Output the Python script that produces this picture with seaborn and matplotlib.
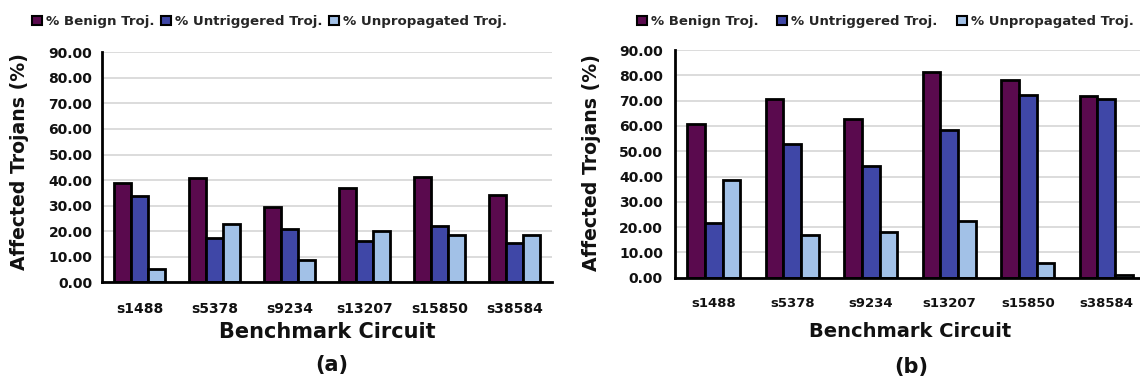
import matplotlib
matplotlib.use("Agg")
import matplotlib.pyplot as plt
import seaborn as sns
import pandas as pd
from matplotlib.ticker import FuncFormatter, MultipleLocator

circuits = ["s1488", "s5378", "s9234", "s13207", "s15850", "s38584"]
series = ["% Benign Troj.", "% Untriggered Troj.", "% Unpropagated Troj."]

benign_a = [38.7, 40.7, 29.5, 36.8, 41.1, 34.3]
untrig_a = [33.6, 17.3, 20.7, 16.2, 22.2, 15.5]
unprop_a = [5.2, 22.9, 8.6, 20.1, 18.4, 18.4]

benign_b = [60.6, 70.6, 62.7, 81.2, 78.1, 71.8]
untrig_b = [21.6, 53.0, 44.0, 58.5, 72.2, 70.5]
unprop_b = [38.5, 17.0, 18.2, 22.3, 5.7, 0.9]

colors = ["#5a0a4e", "#3f47a7", "#a2c1e7"]


def make_df(b, u, p):
    rows = []
    for name, vals in zip(series, [b, u, p]):
        for c, v in zip(circuits, vals):
            rows.append({"circuit": c, "type": name, "value": v})
    return pd.DataFrame(rows)


sns.set_theme(style="white")
plt.rcParams["font.family"] = ["DejaVu Sans"]
plt.rcParams["font.weight"] = "bold"

fig = plt.figure(figsize=(11.4, 3.85), dpi=100)
W, H = 1140, 385

panels = [
    dict(df=make_df(benign_a, untrig_a, unprop_a), left=102.3, right=551.7, y0=282.3, y90=52.3,
         ytick_fs=10, xtick_fs=10, ylab_fs=13.6, xlab_fs=15, leg_fs=9.6, colsp=0.5, leg_x=32, leg_y=21.7,
         ylab_xy=(20, 161.7), xlab_y=331.7, tag="(a)", tag_xy=(331.7, 365), ypad=7.2, xpad=14),
    dict(df=make_df(benign_b, untrig_b, unprop_b), left=674.5, right=1145.5, y0=277.7, y90=50.0,
         ytick_fs=10, xtick_fs=9.5, ylab_fs=13.6, xlab_fs=14, leg_fs=9.5, colsp=1.45, leg_x=636.7, leg_y=21.7,
         ylab_xy=(591.7, 163), xlab_y=331.7, tag="(b)", tag_xy=(911.7, 367), ypad=8.3, xpad=14),
]

for p in panels:
    ax = fig.add_axes([p["left"] / W, (H - p["y0"]) / H,
                       (p["right"] - p["left"]) / W, (p["y0"] - p["y90"]) / H])
    sns.barplot(data=p["df"], x="circuit", y="value", hue="type", palette=colors,
                edgecolor="black", linewidth=2, width=0.68, saturation=1, ax=ax)
    ax.set_ylim(0, 90)
    ax.set_xlim(-0.5, len(circuits) - 0.5)
    ax.yaxis.set_major_locator(MultipleLocator(10))
    ax.yaxis.set_major_formatter(FuncFormatter(lambda v, pos: f"{v:.2f}"))
    ax.grid(axis="y", color="#d2d2d2", linewidth=1.1)
    ax.set_axisbelow(True)
    for s in ["top", "right"]:
        ax.spines[s].set_visible(False)
    for s in ["left", "bottom"]:
        ax.spines[s].set_color("black")
        ax.spines[s].set_linewidth(2)
    ax.tick_params(axis="y", length=0, pad=p["ypad"], labelsize=p["ytick_fs"], colors="#111111")
    ax.tick_params(axis="x", length=0, pad=p["xpad"], labelsize=p["xtick_fs"], colors="#111111")
    for t in ax.get_xticklabels() + ax.get_yticklabels():
        t.set_fontweight("bold")

    axw = p["right"] - p["left"]
    axh = p["y0"] - p["y90"]
    ax.set_xlabel("Benchmark Circuit", fontsize=p["xlab_fs"], fontweight="bold", color="#111111")
    ax.xaxis.label.set_va("center")
    ax.xaxis.set_label_coords(0.5, (p["y0"] - p["xlab_y"]) / axh)
    ax.set_ylabel("Affected Trojans (%)", fontsize=p["ylab_fs"], fontweight="bold", color="#111111")
    ax.yaxis.label.set_va("center")
    ax.yaxis.set_label_coords((p["ylab_xy"][0] - p["left"]) / axw, (p["y0"] - p["ylab_xy"][1]) / axh)

    handles, labels = ax.get_legend_handles_labels()
    for h in handles:
        h.set_linewidth(1.5)
    ax.legend(handles, labels, loc="center left", ncol=3, frameon=False,
              bbox_to_anchor=(p["leg_x"] / W, (H - p["leg_y"]) / H), bbox_transform=fig.transFigure,
              prop={"size": p["leg_fs"], "weight": "bold"}, handlelength=0.75, handleheight=0.75,
              handletextpad=0.3, columnspacing=p["colsp"], borderaxespad=0, borderpad=0)

    fig.text(p["tag_xy"][0] / W, (H - p["tag_xy"][1]) / H, p["tag"], ha="center", va="center",
             fontsize=15, fontweight="bold", color="#111111")

fig.savefig("out.png", dpi=100)
